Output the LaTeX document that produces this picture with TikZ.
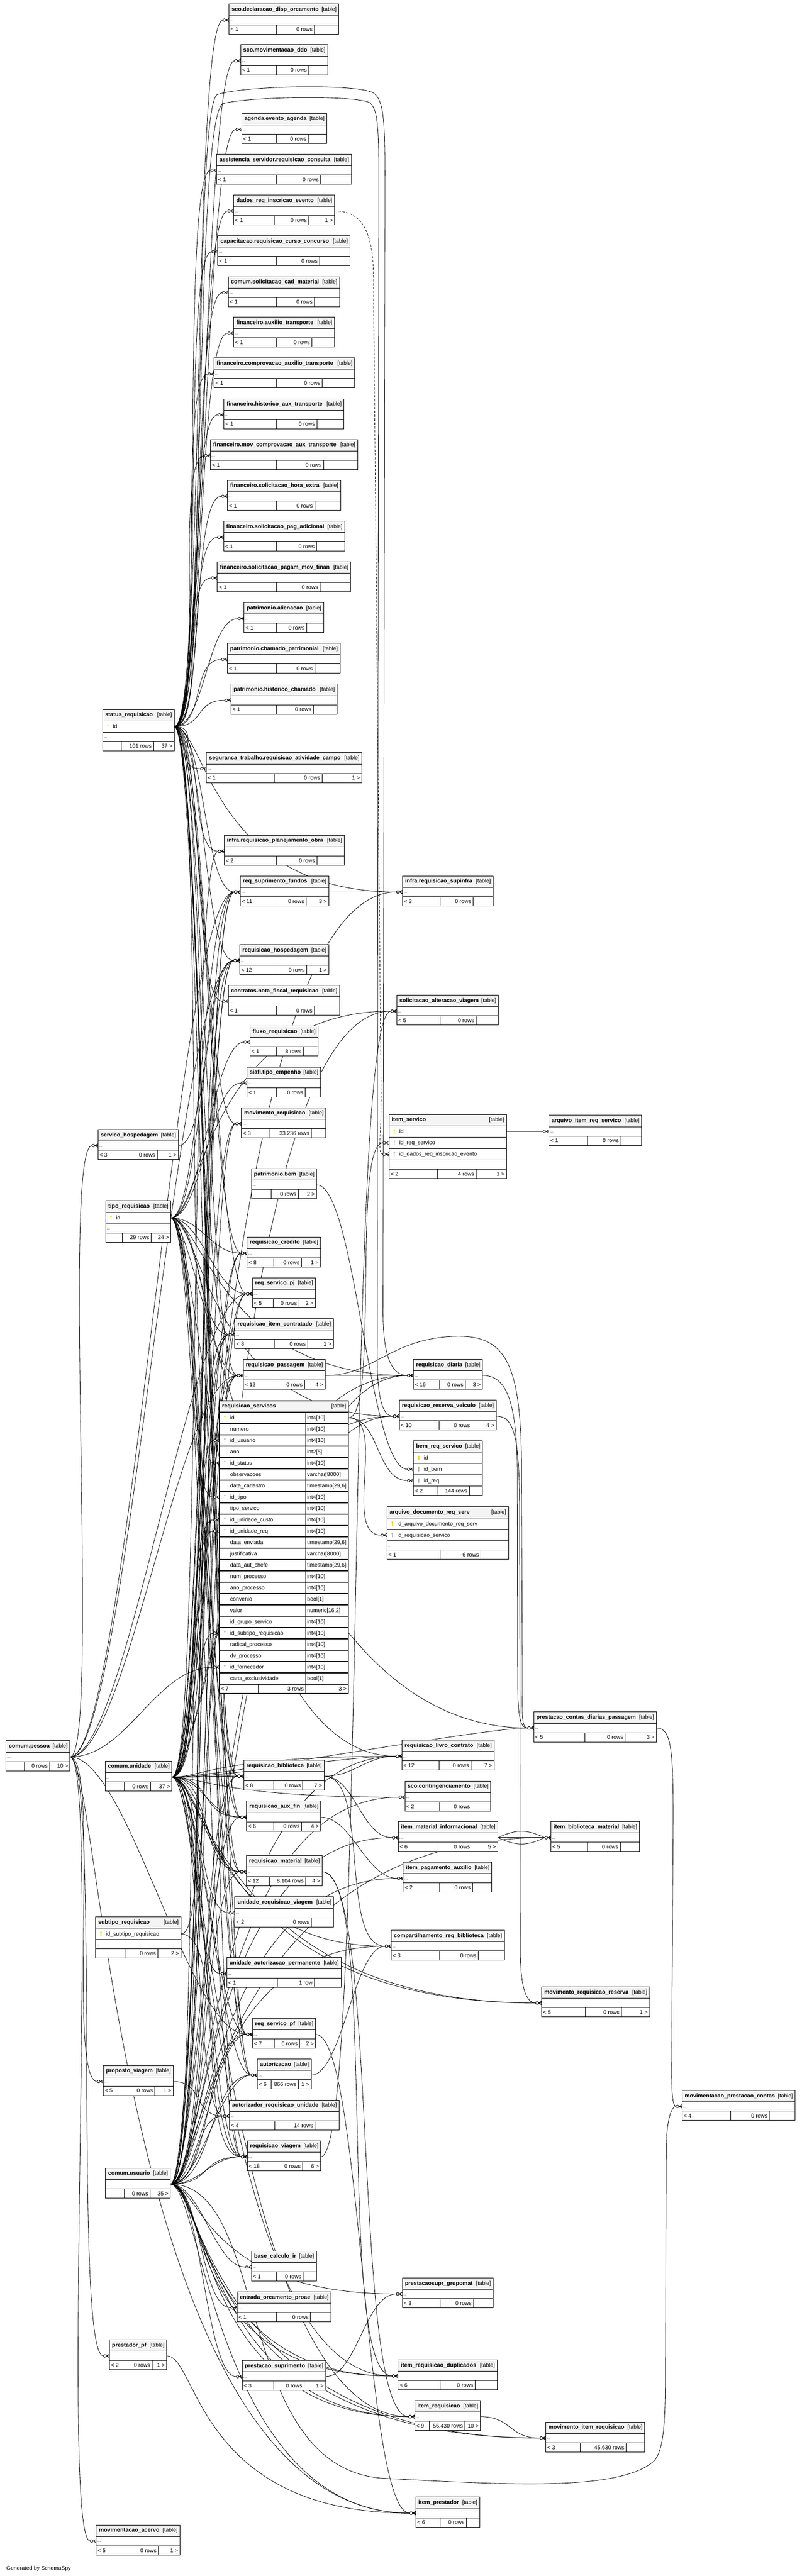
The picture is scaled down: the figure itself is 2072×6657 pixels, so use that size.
\documentclass[tikz,border=0pt]{standalone}
\usepackage{fontspec}
\setmainfont{Liberation Sans}
\usetikzlibrary{calc}
\pgfdeclarelayer{background}
\pgfsetlayers{background,main}
\definecolor{hdrgray}{HTML}{F4F4F4}
\definecolor{pkc}{RGB}{222,222,0}
\definecolor{fkc}{RGB}{180,180,180}
\newcommand\tfs{\fontsize{14.2}{16}\selectfont}
\newcommand\tfsb{\fontsize{14.5}{16}\selectfont\bfseries}
\newcommand\tfsd{\fontsize{10}{12}\selectfont}
\tikzset{
 tb/.style={draw, line width=1.3pt, inner sep=0pt, outer sep=0pt, anchor=north west, fill=white},
 hdr/.style={tb, fill=hdrgray, minimum height=29.5pt},
 drow/.style={tb, minimum height=24pt},
 krow/.style={tb, minimum height=29.3pt},
 ft/.style={tb, minimum height=24pt},
 lbl/.style={inner sep=0pt, outer sep=0pt, font=\tfs},
 edge/.style={line width=1.1pt, draw=black},
}
% footer: above, id, x1, x2, s1, s2, f1, f2, f3
\newcommand{\tfoot}[9]{%
  \pgfmathsetmacro{\tbWa}{#5-#3}%
  \pgfmathsetmacro{\tbWb}{#6-#5}%
  \pgfmathsetmacro{\tbWc}{#4-#6}%
  \node[ft, minimum width=\tbWa pt] (#2-f1) at (#1.south west) {};
  \node[ft, minimum width=\tbWb pt] (#2-f2) at (#2-f1.north east) {};
  \node[ft, minimum width=\tbWc pt] (#2-f3) at (#2-f2.north east) {};
  \node[lbl, anchor=base west] (#2-g1) at ([xshift=4pt,yshift=-5pt]#2-f1.west) {#7};
  \node[lbl, anchor=base east] (#2-g2) at ([xshift=-5pt,yshift=-5pt]#2-f2.east) {#8};
  \node[lbl, anchor=base east] (#2-g3) at ([xshift=-5pt,yshift=-5pt]#2-f3.east) {#9};
}
% simple table: id, x1, x2, ytop, title, s1, s2, {f1}{f2}{f3}
\newcommand{\stable}[8]{%
  \pgfmathsetmacro{\tbW}{#3-#2}%
  \node[hdr, minimum width=\tbW pt] (#1) at (#2,#4) {};
  \node[lbl, font=\tfsb, anchor=base west] (#1-t) at ([xshift=7pt,yshift=-3.5pt]#1.west) {#5};
  \node[lbl, anchor=base east] (#1-k) at ([xshift=-6pt,yshift=-3.5pt]#1.east) {[table]};
  \node[drow, minimum width=\tbW pt] (#1-d) at (#1.south west) {};
  \node[lbl, font=\tfsd, anchor=base west] (#1-dt) at ([xshift=3pt,yshift=-3.5pt]#1-d.west) {...};
  \tfoot{#1-d}{#1}{#2}{#3}{#6}{#7}#8%
}
\newcommand{\khead}[5]{%
  \pgfmathsetmacro{\tbW}{#3-#2}%
  \node[hdr, minimum width=\tbW pt] (#1) at (#2,#4) {};
  \node[lbl, font=\tfsb, anchor=base west] (#1-t) at ([xshift=7pt,yshift=-3.5pt]#1.west) {#5};
  \node[lbl, anchor=base east] (#1-k) at ([xshift=-6pt,yshift=-3.5pt]#1.east) {[table]};
}
\newcommand{\keyat}[2]{%
  \fill[#2] ([xshift=14pt,yshift=4pt]#1.west) circle (2.4pt);
  \draw[#2, line width=1.6pt] ([xshift=14pt,yshift=3pt]#1.west) -- ([xshift=14pt,yshift=-6pt]#1.west);
}
\newcommand{\krw}[5]{%
  \node[krow, minimum width=#4pt] (#2) at (#3.south west) {};
  \node[lbl, anchor=base west] (#2-x) at ([xshift=27pt,yshift=-4.5pt]#2.west) {#5};
  \keyat{#2}{#1}%
}
\newcommand{\kdots}[3]{%
  \node[drow, minimum width=#3pt] (#1-d) at (#2.south west) {};
  \node[lbl, font=\tfsd, anchor=base west] (#1-dt) at ([xshift=3pt,yshift=-3.5pt]#1-d.west) {...};
}
\newcommand{\rrw}[5]{%
  \node[krow, minimum width=223.1pt] (#2) at (#3.south west) {};
  \node[krow, minimum width=110.8pt] (#2-c) at (#2.north east) {};
  \node[lbl, anchor=base west] (#2-x) at ([xshift=28pt,yshift=-4.5pt]#2.west) {#4};
  \node[lbl, anchor=base west] (#2-y) at ([xshift=4pt,yshift=-4.5pt]#2-c.west) {#5};
  \keyat{#2}{#1}%
}
\newcommand{\crowat}[1]{%
  \draw[edge] ([xshift=-8pt]#1.west) -- ([yshift=4.5pt]#1.west)
              ([xshift=-8pt]#1.west) -- ([yshift=-4.5pt]#1.west)
              ([xshift=-8.5pt]#1.west) -- (#1.west);
  \draw[edge, fill=white] ([xshift=-12pt]#1.west) circle (3.5pt);
}
\newcommand{\fk}[3][80]{%
  \draw[edge] (#2.east) .. controls ($(#2.east)+(#1,0)$) and ($(#3.west)+({-15.5-#1},0)$) .. ([xshift=-15.5pt]#3.west);
  \crowat{#3}%
}
\newcommand{\fkb}[4]{%
  \draw[edge] (#3.east) .. controls ($(#3.east)+(#1,0)$) and ($(#4.west)+({-15.5-#2},0)$) .. ([xshift=-15.5pt]#4.west);
  \crowat{#4}%
}
\begin{document}
\begin{tikzpicture}[x=1pt,y=-1pt]
\useasboundingbox (0,0) rectangle (2072,6657);

% ---------------- tables ----------------
\stable{sdo}{592}{876}{10.5}{sco.declaracao\_disp\_orcamento}{714}{813}{{< 1}{0 rows}{}}
\stable{smd}{622}{847}{115.7}{sco.movimentacao\_ddo}{714}{798}{{< 1}{0 rows}{}}
\stable{aea}{625}{845}{293}{agenda.evento\_agenda}{714}{797}{{< 1}{0 rows}{}}
\stable{asr}{560}{908}{398.5}{assistencia\_servidor.requisicao\_consulta}{714}{829}{{< 1}{0 rows}{}}
\stable{dre}{604}{865}{503.7}{dados\_req\_inscricao\_evento}{709}{798}{{< 1}{0 rows}{1 >}}
\stable{crc}{563}{905}{609}{capacitacao.requisicao\_curso\_concurso}{714}{826}{{< 1}{0 rows}{}}
\stable{csm}{590}{878}{715}{comum.solicitacao\_cad\_material}{714}{813}{{< 1}{0 rows}{}}
\stable{fat}{604}{865}{819.5}{financeiro.auxilio\_transporte}{714}{806}{{< 1}{0 rows}{}}
\stable{fca}{553}{917}{925}{financeiro.comprovacao\_auxilio\_transporte}{714}{833}{{< 1}{0 rows}{}}
\stable{fha}{579}{889}{1030.5}{financeiro.historico\_aux\_transporte}{714}{819}{{< 1}{0 rows}{}}
\stable{fmc}{544}{924.5}{1135.8}{financeiro.mov\_comprovacao\_aux\_transporte}{714}{836.5}{{< 1}{0 rows}{}}
\stable{fsh}{588}{880.5}{1241}{financeiro.solicitacao\_hora\_extra}{714}{813.5}{{< 1}{0 rows}{}}
\stable{fsp}{578}{891}{1347}{financeiro.solicitacao\_pag\_adicional}{714}{818.6}{{< 1}{0 rows}{}}
\stable{fsm}{561.6}{906.6}{1452}{financeiro.solicitacao\_pagam\_mov\_finan}{714}{827}{{< 1}{0 rows}{}}
\stable{pal}{631}{836.5}{1557}{patrimonio.alienacao}{714}{792.5}{{< 1}{0 rows}{}}
\stable{pcp}{588}{879}{1662.6}{patrimonio.chamado\_patrimonial}{714}{813.5}{{< 1}{0 rows}{}}
\stable{phc}{597}{871.6}{1768}{patrimonio.historico\_chamado}{714}{809.7}{{< 1}{0 rows}{}}
\stable{sta}{533.5}{935}{1945}{seguranca\_trabalho.requisicao\_atividade\_campo}{709}{832.6}{{< 1}{0 rows}{1 >}}
\stable{ipo}{579.5}{890.3}{2158.4}{infra.requisicao\_planejamento\_obra}{714}{819.4}{{< 2}{0 rows}{}}
\stable{rsf}{621}{849.6}{2263.6}{req\_suprimento\_fundos}{712.8}{791.4}{{< 11}{0 rows}{3 >}}
\stable{isi}{1040.4}{1274.7}{2263.6}{infra.requisicao\_supinfra}{1137}{1222.8}{{< 3}{0 rows}{}}
\stable{rho}{619.5}{849.6}{2441}{requisicao\_hospedagem}{712.8}{792.8}{{< 12}{0 rows}{1 >}}
\stable{cnf}{590}{877.7}{2546}{contratos.nota\_fiscal\_requisicao}{714}{812.4}{{< 1}{0 rows}{}}
\stable{flx}{646}{821.5}{2651.6}{fluxo\_requisicao}{714}{784.3}{{< 1}{8 rows}{}}
\stable{ste}{638.4}{829}{2757.5}{siafi.tipo\_empenho}{714}{789}{{< 1}{0 rows}{}}
\stable{mvr}{624.4}{842.6}{2862.7}{movimento\_requisicao}{695}{804.7}{{< 3}{33.236 rows}{}}
\stable{sav}{1025.7}{1288.7}{2571.6}{solicitacao\_alteracao\_viagem}{1137}{1230.5}{{< 5}{0 rows}{}}
\stable{air}{1418.8}{1658.8}{2882.4}{arquivo\_item\_req\_servico}{1518.8}{1604.7}{{< 1}{0 rows}{}}
\stable{sho}{253.3}{461}{2918.9}{servico\_hospedagem}{330.5}{406.2}{{< 3}{0 rows}{1 >}}
\stable{pbe}{649.7}{818.7}{3020.6}{patrimonio.bem}{701.6}{771}{{}{0 rows}{2 >}}
\stable{rcr}{639}{828.5}{3197}{requisicao\_credito}{707}{779.4}{{< 8}{0 rows}{1 >}}
\stable{rpj}{652.5}{815.2}{3302}{req\_servico\_pj}{706.5}{772.4}{{< 5}{0 rows}{2 >}}
\stable{ric}{606.9}{861.5}{3407.8}{requisicao\_item\_contratado}{708.6}{795.6}{{< 8}{0 rows}{1 >}}
\stable{rpa}{628.6}{840.5}{3513}{requisicao\_passagem}{712.8}{787.2}{{< 12}{0 rows}{4 >}}
\stable{rdi}{1068.5}{1247.4}{3513}{requisicao\_diaria}{1135.8}{1203}{{< 16}{0 rows}{3 >}}
\stable{rrv}{1032}{1282.4}{3618.3}{requisicao\_reserva\_veiculo}{1134.4}{1220}{{< 10}{0 rows}{4 >}}
\stable{pcd}{1379.4}{1696.7}{4424}{prestacao\_contas\_diarias\_passagem}{1511.4}{1616}{{< 5}{0 rows}{3 >}}
\stable{rlc}{1039}{1277}{4497}{requisicao\_livro\_contrato}{1135.4}{1217.4}{{< 12}{0 rows}{7 >}}
\stable{sco}{1046.5}{1268.7}{4602.8}{sco.contingenciamento}{1136.7}{1220}{{< 2}{0 rows}{}}
\stable{imi}{1029.4}{1286.5}{4707.4}{item\_material\_informacional}{1132}{1220}{{< 6}{0 rows}{5 >}}
\stable{ibm}{1423.9}{1653}{4707.4}{item\_biblioteca\_material}{1519}{1603}{{< 5}{0 rows}{}}
\stable{cpe}{15.8}{180.8}{4498.7}{comum.pessoa}{63}{128.5}{{}{0 rows}{10 >}}
\stable{cun}{272}{444.4}{4551}{comum.unidade}{321}{389}{{}{0 rows}{37 >}}
\stable{rbi}{630}{837.5}{4548.5}{requisicao\_biblioteca}{707.3}{782.8}{{< 8}{0 rows}{7 >}}
\stable{raf}{637.6}{829.2}{4654.4}{requisicao\_aux\_fin}{707.3}{779.4}{{< 6}{0 rows}{4 >}}
\stable{rma}{636.8}{832.5}{4795.4}{requisicao\_material}{697.3}{790}{{< 12}{8.104 rows}{4 >}}
\stable{ipa}{1042.4}{1271.4}{4812.6}{item\_pagamento\_auxilio}{1136.7}{1221.5}{{< 2}{0 rows}{}}
\stable{crb}{1011}{1303.5}{4988}{compartilhamento\_req\_biblioteca}{1136.7}{1236.5}{{< 3}{0 rows}{}}
\stable{mrr}{1400}{1679}{5134.6}{movimento\_requisicao\_reserva}{1512.7}{1606.4}{{< 5}{0 rows}{1 >}}
\stable{mpc}{1763}{2055.6}{5401.9}{movimentacao\_prestacao\_contas}{1888.8}{1988.6}{{< 4}{0 rows}{}}
\stable{urv}{607}{862.4}{4902}{unidade\_requisicao\_viagem}{713}{804.3}{{< 2}{0 rows}{}}
\stable{uap}{586.2}{881.4}{5058.8}{unidade\_autorizacao\_permanente}{716.4}{812.6}{{< 1}{1 row}{}}
\stable{rpf}{652.6}{816}{5215.7}{req\_servico\_pf}{709}{774.5}{{< 7}{0 rows}{2 >}}
\stable{aut}{665}{804.3}{5321}{autorizacao}{700.7}{771}{{< 6}{866 rows}{1 >}}
\stable{pvi}{267}{447.8}{5337.5}{proposto\_viagem}{330.8}{400.5}{{< 5}{0 rows}{1 >}}
\stable{aru}{592.9}{876.5}{5426.8}{autorizador\_requisicao\_unidade}{710.6}{814.3}{{< 4}{14 rows}{}}
\stable{rvi}{639.3}{829.2}{5532}{requisicao\_viagem}{713}{782}{{< 18}{0 rows}{6 >}}
\stable{cus}{272.8}{440.3}{5602.8}{comum.usuario}{321}{388}{{}{0 rows}{35 >}}
\stable{bci}{650}{817.6}{5817}{base\_calculo\_ir}{714}{783.6}{{< 1}{0 rows}{}}
\stable{eop}{612.8}{855.7}{5922.6}{entrada\_orcamento\_proae}{714}{802.7}{{< 1}{0 rows}{}}
\stable{psg}{1039.8}{1275.3}{5886.5}{prestacaosupr\_grupomat}{1137.6}{1224}{{< 3}{0 rows}{}}
\stable{ppf}{282.8}{431.2}{6046.6}{prestador\_pf}{330.8}{393}{{< 2}{0 rows}{1 >}}
\stable{psu}{626}{841.6}{6100}{prestacao\_suprimento}{707.3}{786}{{< 3}{0 rows}{1 >}}
\stable{ird}{1029}{1285.2}{6098.6}{item\_requisicao\_duplicados}{1137.6}{1228}{{< 6}{0 rows}{}}
\stable{ire}{1072}{1242}{6203.6}{item\_requisicao}{1109.5}{1201.5}{{< 9}{56.430 rows}{10 >}}
\stable{ipr}{1074.6}{1239.6}{6453}{item\_prestador}{1137.6}{1205.6}{{< 6}{0 rows}{}}
\stable{mac}{248.8}{465.2}{6525.2}{movimentacao\_acervo}{330.8}{409.6}{{< 5}{0 rows}{1 >}}
\stable{mir}{1410.9}{1666.6}{6259}{movimento\_item\_requisicao}{1499.8}{1618.7}{{< 3}{45.630 rows}{}}

% key tables
\khead{srq}{265}{450.5}{1833.3}{status\_requisicao}
\krw{pkc}{srq-r1}{srq}{185.5}{id}
\kdots{srq}{srq-r1}{185.5}
\tfoot{srq-d}{srq}{265}{450.5}{313}{397}{}{101 rows}{37 >}

\khead{tre}{273}{441.3}{3103.3}{tipo\_requisicao}
\krw{pkc}{tre-r1}{tre}{168.3}{id}
\kdots{tre}{tre-r1}{168.3}
\tfoot{tre-d}{tre}{273}{441.3}{316.5}{390.8}{}{29 rows}{24 >}

\khead{str}{247}{467.7}{4953.6}{subtipo\_requisicao}
\krw{pkc}{str-r1}{str}{220.7}{id\_subtipo\_requisicao}
\kdots{str}{str-r1}{220.7}
\tfoot{str-d}{str}{247}{467.7}{325}{408}{}{0 rows}{2 >}

\khead{its}{1005.3}{1308.8}{2880}{item\_servico}
\krw{pkc}{its-r1}{its}{303.5}{id}
\krw{fkc}{its-r2}{its-r1}{303.5}{id\_req\_servico}
\krw{fkc}{its-r3}{its-r2}{303.5}{id\_dados\_req\_inscricao\_evento}
\kdots{its}{its-r3}{303.5}
\tfoot{its-d}{its}{1005.3}{1308.8}{1131}{1230.6}{< 2}{4 rows}{1 >}

\khead{brs}{1068.5}{1247.4}{3723.5}{bem\_req\_servico}
\krw{pkc}{brs-r1}{brs}{178.9}{id}
\krw{fkc}{brs-r2}{brs-r1}{178.9}{id\_bem}
\krw{fkc}{brs-r3}{brs-r2}{178.9}{id\_req}
\tfoot{brs-r3}{brs}{1068.5}{1247.4}{1129.5}{1213}{< 2}{144 rows}{}

\khead{adr}{1000}{1314.5}{3893.6}{arquivo\_documento\_req\_serv}
\krw{pkc}{adr-r1}{adr}{314.5}{id\_arquivo\_documento\_req\_serv}
\krw{fkc}{adr-r2}{adr-r1}{314.5}{id\_requisicao\_servico}
\kdots{adr}{adr-r2}{314.5}
\tfoot{adr-d}{adr}{1000}{1314.5}{1137.4}{1242.7}{< 1}{6 rows}{}

\begin{scope}[tb/.append style={line width=2.2pt}]
\khead{rse}{566.9}{900.8}{3619.7}{requisicao\_servicos}
\rrw{pkc}{rse-n1}{rse}{id}{int4[10]}
\rrw{white}{rse-n2}{rse-n1}{numero}{int4[10]}
\rrw{fkc}{rse-n3}{rse-n2}{id\_usuario}{int4[10]}
\rrw{white}{rse-n4}{rse-n3}{ano}{int2[5]}
\rrw{fkc}{rse-n5}{rse-n4}{id\_status}{int4[10]}
\rrw{white}{rse-n6}{rse-n5}{observacoes}{varchar[8000]}
\rrw{white}{rse-n7}{rse-n6}{data\_cadastro}{timestamp[29,6]}
\rrw{fkc}{rse-n8}{rse-n7}{id\_tipo}{int4[10]}
\rrw{white}{rse-n9}{rse-n8}{tipo\_servico}{int4[10]}
\rrw{fkc}{rse-n10}{rse-n9}{id\_unidade\_custo}{int4[10]}
\rrw{fkc}{rse-n11}{rse-n10}{id\_unidade\_req}{int4[10]}
\rrw{white}{rse-n12}{rse-n11}{data\_enviada}{timestamp[29,6]}
\rrw{white}{rse-n13}{rse-n12}{justificativa}{varchar[8000]}
\rrw{white}{rse-n14}{rse-n13}{data\_aut\_chefe}{timestamp[29,6]}
\rrw{white}{rse-n15}{rse-n14}{num\_processo}{int4[10]}
\rrw{white}{rse-n16}{rse-n15}{ano\_processo}{int4[10]}
\rrw{white}{rse-n17}{rse-n16}{convenio}{bool[1]}
\rrw{white}{rse-n18}{rse-n17}{valor}{numeric[16,2]}
\rrw{white}{rse-n19}{rse-n18}{id\_grupo\_servico}{int4[10]}
\rrw{fkc}{rse-n20}{rse-n19}{id\_subtipo\_requisicao}{int4[10]}
\rrw{white}{rse-n21}{rse-n20}{radical\_processo}{int4[10]}
\rrw{white}{rse-n22}{rse-n21}{dv\_processo}{int4[10]}
\rrw{fkc}{rse-n23}{rse-n22}{id\_fornecedor}{int4[10]}
\rrw{white}{rse-n24}{rse-n23}{carta\_exclusividade}{bool[1]}
\tfoot{rse-n24}{rse}{566.9}{900.8}{667.5}{790}{< 7}{3 rows}{3 >}
\end{scope}

\node[lbl, anchor=base west] (gen) at (16.6,6641) {Generated by SchemaSpy};

% ---------------- connectors ----------------
\begin{pgfonlayer}{background}
\fill[white] (0,0) rectangle (2072,6657);
% status_requisicao
\foreach \tgt in {sdo-d,smd-d,aea-d,asr-d,dre-d,crc-d,csm-d,fat-d,fca-d,fha-d,fmc-d,fsh-d,fsp-d,fsm-d,pal-d,pcp-d,phc-d,sta-d,ipo-d,rsf-d,rho-d,cnf-d,mvr-d,rcr-d,rpj-d,ric-d,rpa-d,rse-n5,rbi-d,raf-d,rma-d,rpf-d,aut-d,rvi-d} {\fk{srq-r1}{\tgt}}
\fkb{80}{480}{srq-r1}{isi-d}
\draw[edge] (srq-r1.east) .. controls (540,1877.5) and (495,320) .. (560,245) .. controls (620,222) and (920,215) .. (965,240) .. controls (990,258) and (995,300) .. (995,450) -- (990,3380) .. controls (989,3500) and (1010,3554.5) .. ([xshift=-15.5pt]rdi-d.west);
\crowat{rdi-d}
\draw[edge] (srq-r1.east) .. controls (535,1877.5) and (500,330) .. (575,268) .. controls (640,250) and (910,245) .. (955,265) .. controls (975,280) and (979,320) .. (979,450) -- (975,3500) .. controls (975,3620) and (990,3659.8) .. ([xshift=-15.5pt]rrv-d.west);
\crowat{rrv-d}
% tipo_requisicao
\foreach \tgt in {flx-d,ste-d,rsf-d,rho-d,rcr-d,rpj-d,ric-d,rpa-d,rse-n8,rbi-d,raf-d,rma-d,rpf-d,aut-d,rvi-d} {\fk{tre-r1}{\tgt}}
\foreach \tgt in {sav-d,rdi-d,rrv-d,rlc-d} {\fkb{80}{480}{tre-r1}{\tgt}}
\fkb{80}{700}{tre-r1}{pcd-d}
% comum.unidade
\foreach \tgt in {ipo-d,rsf-d,rho-d,mvr-d,rcr-d,rpj-d,ric-d,rpa-d,rse-n10,rse-n11,rbi-d,raf-d,rma-d,urv-d,uap-d,rpf-d,aut-d,aru-d,rvi-d} {\fk{cun-d}{\tgt}}
\foreach \tgt in {rsf-d,rho-d,ric-d,rpa-d,rbi-d,raf-d,rma-d,rvi-d} {\fk[110]{cun-d}{\tgt}}
\foreach \tgt in {isi-d,rdi-d,rrv-d,rlc-d,sco-d,crb-d,ird-d,ire-d} {\fkb{80}{460}{cun-d}{\tgt}}
\fk[150]{cun-d}{rlc-d}
\fkb{80}{800}{cun-d}{mrr-d}
\fkb{100}{850}{cun-d}{mrr-d}
\fk[120]{cun-d}{pcd-d}
% comum.usuario
\foreach \tgt in {mvr-d,rse-n3,rpf-d,aut-d,aru-d,rvi-d,bci-d,eop-d,psu-d} {\fk{cus-d}{\tgt}}
\foreach \tgt in {rsf-d,rho-d,rcr-d,rpj-d,ric-d,rpa-d,rbi-d,raf-d,rma-d} {\fk[100]{cus-d}{\tgt}}
\foreach \tgt in {rpf-d,aut-d,rvi-d} {\fk[110]{cus-d}{\tgt}}
\foreach \tgt in {sav-d,psg-d,ird-d,ire-d,ipr-d} {\fkb{80}{500}{cus-d}{\tgt}}
\foreach \tgt in {rdi-d,rrv-d,rlc-d,sco-d,imi-d,ipa-d,crb-d} {\fkb{90}{480}{cus-d}{\tgt}}
\foreach \tgt in {ird-d,ire-d} {\fkb{100}{550}{cus-d}{\tgt}}
\foreach \tgt in {ibm-d,mir-d} {\fkb{80}{850}{cus-d}{\tgt}}
\fkb{100}{900}{cus-d}{mir-d}
\draw[edge] (cus-d.east) .. controls (700,5644) and (600,6390) .. (1000,6405) .. controls (1300,6420) and (1600,6440) .. (1690,6360) .. controls (1718,6330) and (1720,6250) .. (1720,6100) -- (1722,5560) .. controls (1722,5480) and (1735,5443.4) .. ([xshift=-15.5pt]mpc-d.west);
\crowat{mpc-d}
% comum.pessoa
\foreach \tgt in {sho-d,pvi-d,ppf-d,mac-d} {\fk{cpe-d}{\tgt}}
\foreach \tgt in {rsf-d,rho-d,rpj-d,rpa-d,rse-n23,rpf-d} {\fk[150]{cpe-d}{\tgt}}
\fkb{80}{750}{cpe-d}{ipr-d}
% subtipo_requisicao
\fk{str-r1}{rse-n20}
\fk[120]{str-r1}{rvi-d}
% others
\fk{rsf-d}{isi-d}
\fk{sho-d}{rho-d}
\draw[edge, dash pattern=on 6pt off 4pt] (dre-d.east) .. controls (930,545.2) and (962,590) .. (965,700) -- (985,2820) .. controls (986,2940) and (975,2982.8) .. ([xshift=-15.5pt]its-r3.west);
\crowat{its-r3}
\fk{its-r1}{air-d}
\fk{rse-n1-c}{its-r2}
\fk{rse-n1-c}{brs-r3}
\fk[100]{rse-n1-c}{adr-r2}
\fk[100]{pbe-d}{brs-r2}
\fk{rpa-d}{rdi-d}
\draw[edge] (rpa-d.east) .. controls (960,3554.5) and (1000,3470) .. (1150,3455) .. controls (1300,3442) and (1348,3500) .. (1348,3800) -- (1350,4300) .. controls (1351,4420) and (1345,4465.5) .. ([xshift=-15.5pt]pcd-d.west);
\crowat{pcd-d}
\draw[edge] (rdi-d.east) .. controls (1300,3554.5) and (1336,3600) .. (1337,3800) -- (1338,4350) .. controls (1339,4440) and (1345,4465.5) .. ([xshift=-15.5pt]pcd-d.west);
\draw[edge] (rrv-d.east) .. controls (1325,3659.8) and (1343,3700) .. (1343,3900) -- (1345,5050) .. controls (1346,5150) and (1365,5176.1) .. ([xshift=-15.5pt]mrr-d.west);
\crowat{mrr-d}
\draw[edge] (pcd-d.east) .. controls (1735,4465.5) and (1740,4520) .. (1740,4700) -- (1736,5330) .. controls (1735,5420) and (1740,5443.4) .. ([xshift=-15.5pt]mpc-d.west);
\fk{rbi-d}{rlc-d}
\fk{rbi-d}{imi-d}
\fk[120]{rbi-d}{crb-d}
\fk{imi-d}{ibm-d}
\draw[edge] (imi-d.east) .. controls (1340,4725) and (1360,4728) .. ([xshift=-15.5pt]ibm-d.west);
\draw[edge] (imi-d.east) .. controls (1340,4772) and (1360,4770) .. ([xshift=-15.5pt]ibm-d.west);
\fk{raf-d}{ipa-d}
\fk[150]{rma-d}{ird-d}
\fk[150]{rma-d}{ire-d}
\fk[120]{rvi-d}{sav-d}
\fk{aut-d}{crb-d}
\fk[120]{rpf-d}{ipr-d}
\fk{pvi-d}{aru-d}
\fkb{80}{550}{ppf-d}{ipr-d}
\fk{psu-d}{psg-d}
\fk{ire-d}{mir-d}
\end{pgfonlayer}
\end{tikzpicture}
\end{document}
